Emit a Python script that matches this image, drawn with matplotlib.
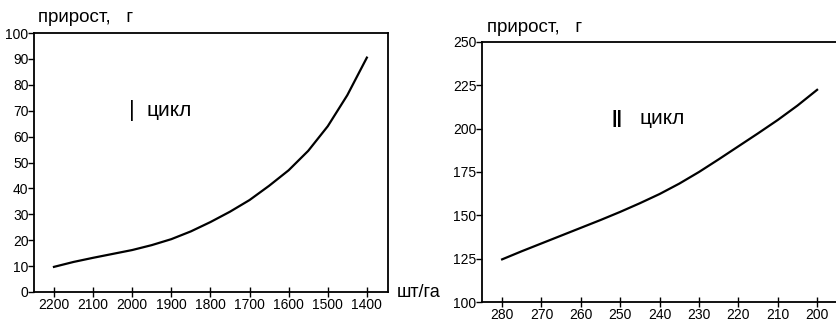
import numpy as np
from matplotlib import pyplot as plt
from matplotlib import font_manager

# pick a condensed face for the numbers if it is there
try:
    font_manager.findfont('Liberation Sans Narrow', fallback_to_default=False)
    num_font = ['Liberation Sans Narrow', 'DejaVu Sans']
except Exception:
    num_font = ['Liberation Sans', 'DejaVu Sans']
plt.rcParams['font.family'] = ['Liberation Sans', 'DejaVu Sans']

# cycle I  (density, шт/га -> increment, г)
x1 = [2200, 2150, 2100, 2050, 2000, 1950, 1900, 1850, 1800,
      1750, 1700, 1650, 1600, 1550, 1500, 1450, 1400]
y1 = [9.7, 11.6, 13.2, 14.7, 16.2, 18.1, 20.4, 23.4, 27,
      31, 35.5, 41, 47, 54.5, 64, 76, 90.5]
x1_ticks = [2200, 2100, 2000, 1900, 1800, 1700, 1600, 1500, 1400]
y1_ticks = [0, 10, 20, 30, 40, 50, 60, 70, 80, 90, 100]

# cycle II
x2 = [280, 275, 270, 265, 260, 255, 250, 245, 240,
      235, 230, 225, 220, 215, 210, 205, 200]
y2 = [124.6, 129.3, 133.8, 138.3, 142.8, 147.3, 152, 157, 162.3,
      168.3, 175, 182.3, 189.8, 197.3, 205, 213.3, 222.4]
x2_ticks = [280, 270, 260, 250, 240, 230, 220, 210, 200]
y2_ticks = [100, 125, 150, 175, 200, 225, 250]


def style_axes(ax):
    for s in ax.spines.values():
        s.set_linewidth(1.3)
    ax.tick_params(axis='y', direction='out', length=4, width=1, labelsize=10, pad=0)
    ax.tick_params(axis='x', direction='inout', length=7, width=1, labelsize=10, pad=1)
    for lab in ax.get_xticklabels() + ax.get_yticklabels():
        lab.set_family(num_font)


fig = plt.figure(figsize=(8.36, 3.23), dpi=100)

ax1 = fig.add_axes([0.0407, 0.096, 0.4234, 0.8018])
ax1.plot(x1, y1, color='black', lw=1.6)
ax1.set_xlim(2251, 1346)
ax1.set_ylim(0, 100)
ax1.set_xticks(x1_ticks)
ax1.set_yticks(y1_ticks)
style_axes(ax1)
ax1.text(0.268, 0.70, '|', transform=ax1.transAxes, fontsize=16, va='center')
ax1.text(0.318, 0.70, 'цикл', transform=ax1.transAxes, fontsize=15, va='center')

ax2 = fig.add_axes([0.5766, 0.065, 0.4234, 0.805])
ax2.plot(x2, y2, color='black', lw=1.6)
ax2.set_xlim(285.1, 195.2)
ax2.set_ylim(100, 250)
ax2.set_xticks(x2_ticks)
ax2.set_yticks(y2_ticks)
style_axes(ax2)
ax2.spines['right'].set_visible(False)
ax2.text(0.365, 0.705, '||', transform=ax2.transAxes, fontsize=14, va='center',
         fontweight='bold')
ax2.text(0.445, 0.705, 'цикл', transform=ax2.transAxes, fontsize=15, va='center')

fig.text(0.045, 0.945, 'прирост,   г', fontsize=13.5, va='center')
fig.text(0.583, 0.915, 'прирост,   г', fontsize=13.5, va='center')
fig.text(0.474, 0.093, 'шт/га', fontsize=13, va='center')

fig.savefig('out.png', dpi=100)
